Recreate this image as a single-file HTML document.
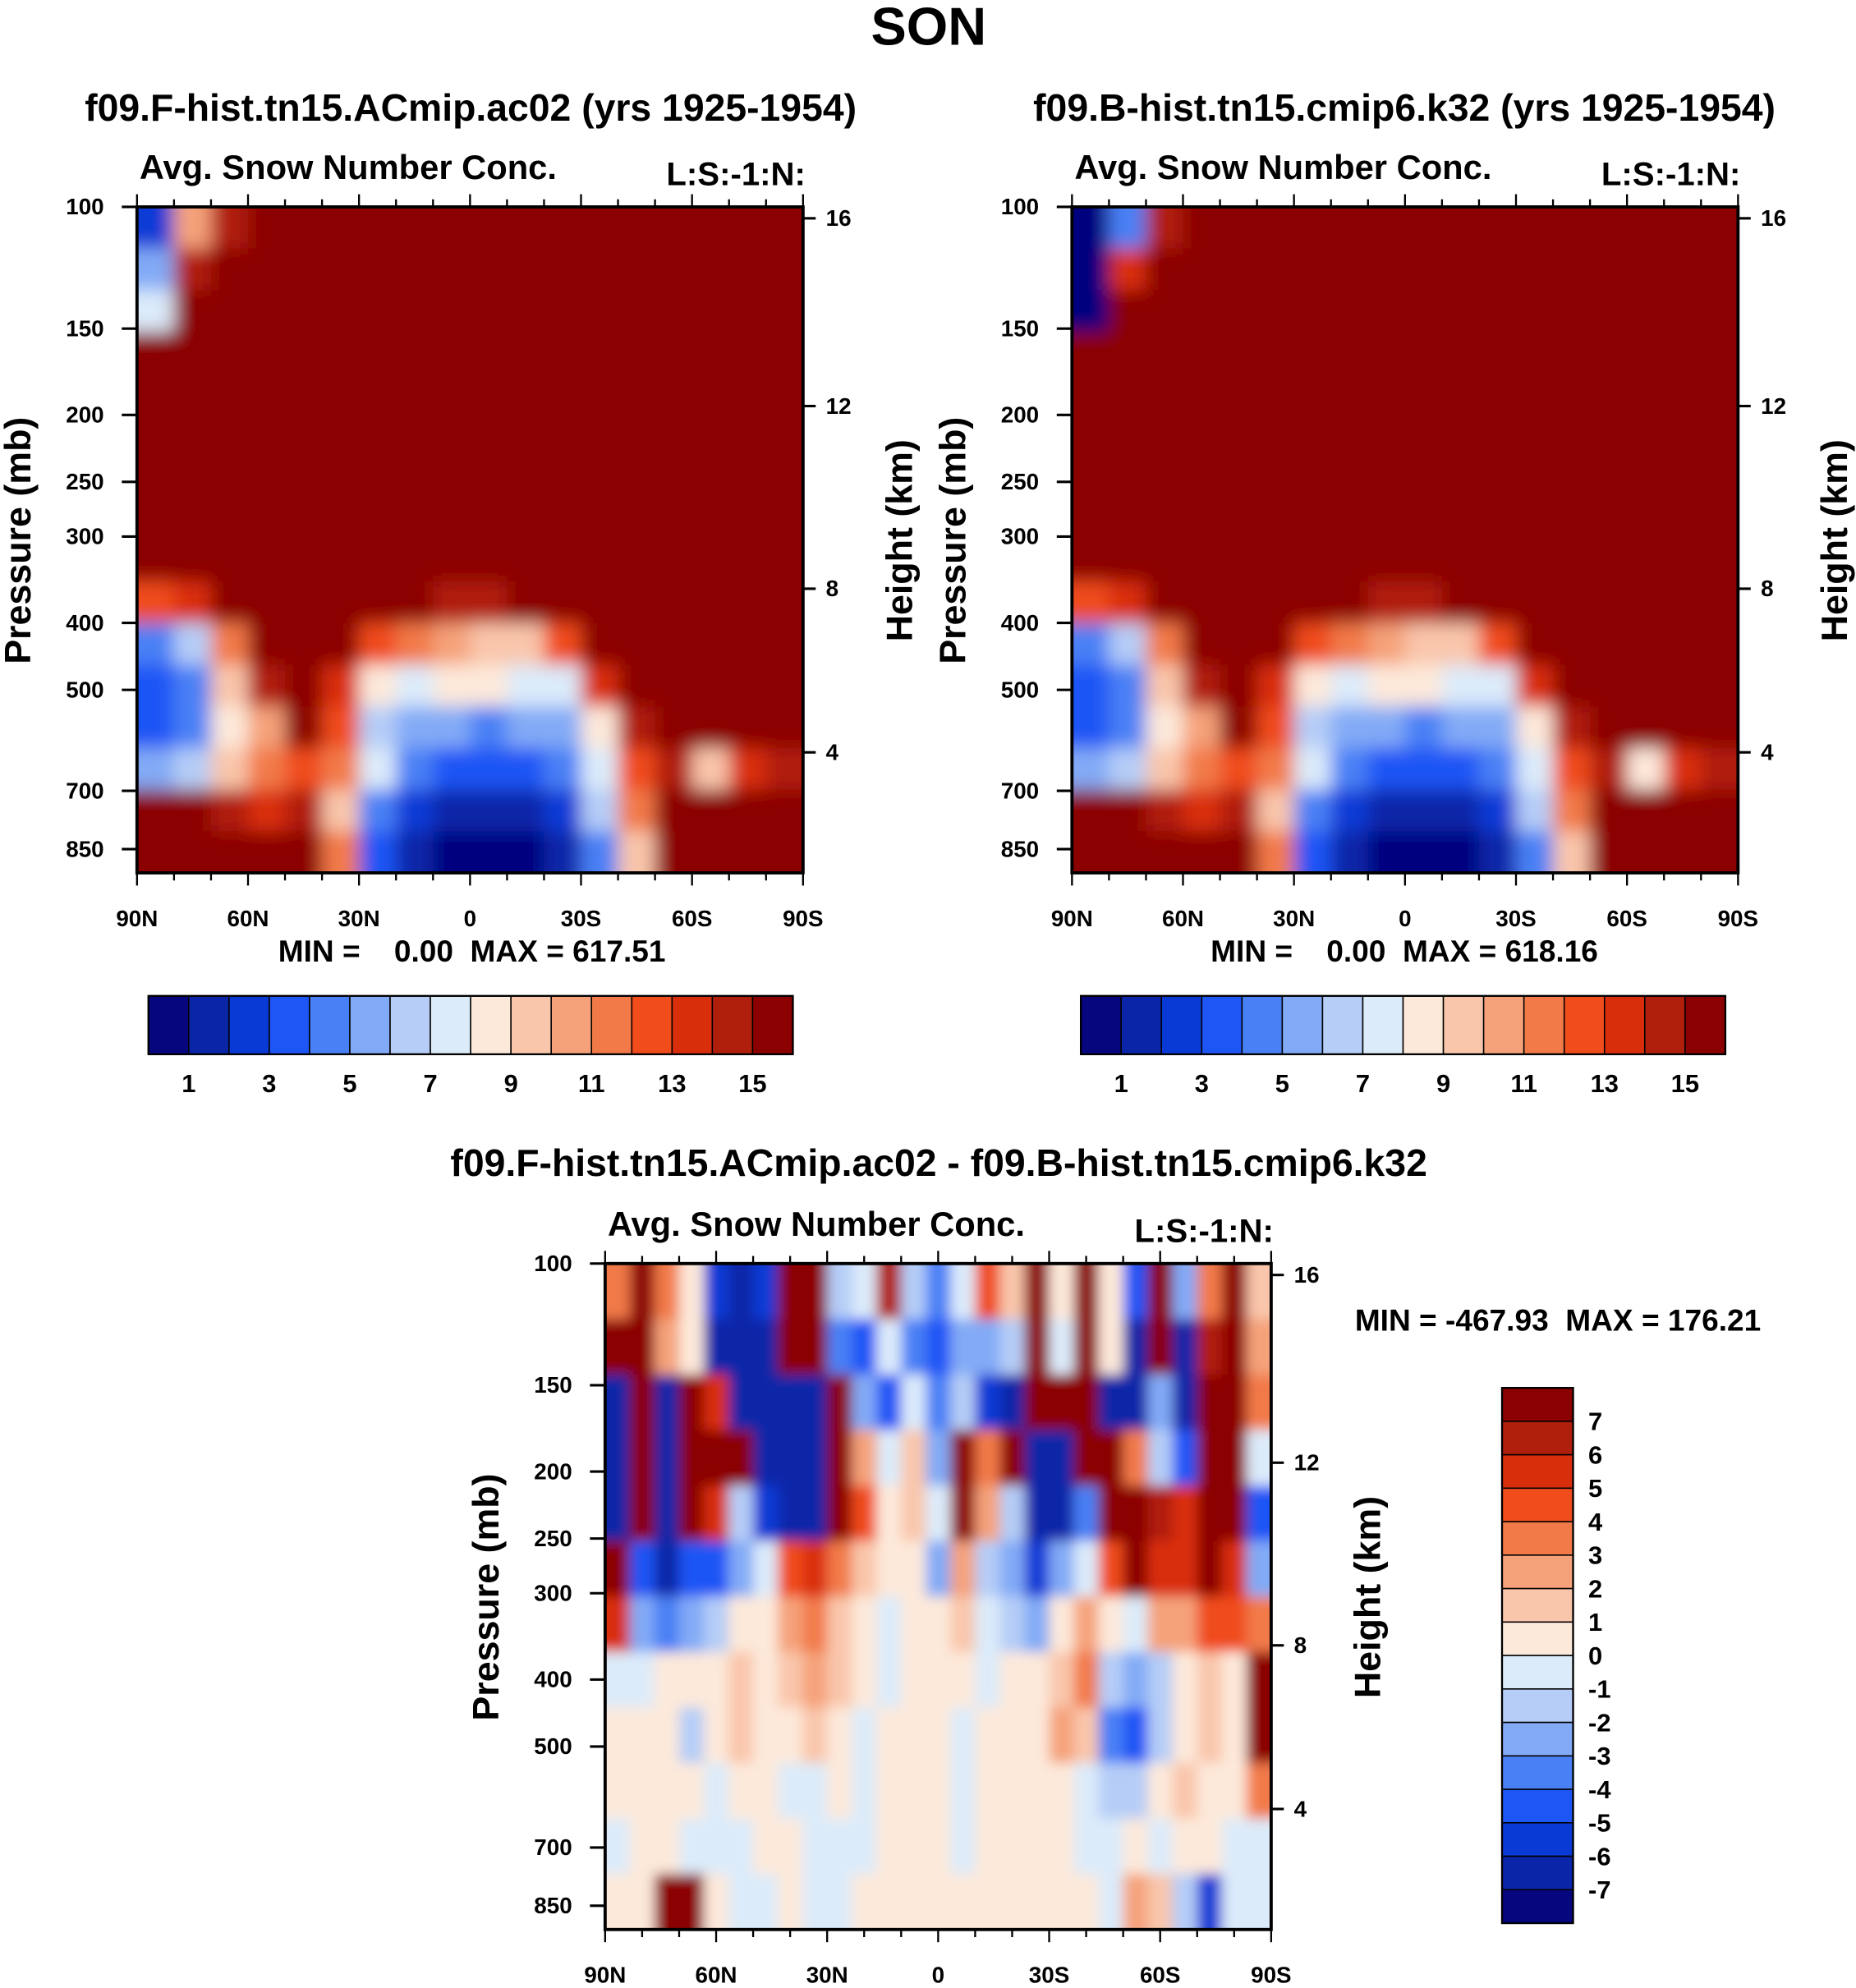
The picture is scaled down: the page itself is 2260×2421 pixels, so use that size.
<!DOCTYPE html>
<html><head><meta charset="utf-8"><style>
html,body{margin:0;padding:0;background:#fff;}
svg{display:block;font-family:"Liberation Sans",sans-serif;font-weight:bold;}
text{white-space:pre;}
</style></head><body>
<svg id="fig" width="2260" height="2421" viewBox="0 0 1463 1567" xmlns="http://www.w3.org/2000/svg">
<defs>
<filter id="blurA" x="-5%" y="-5%" width="110%" height="110%"><feGaussianBlur stdDeviation="7" edgeMode="duplicate"/></filter>
<filter id="blurB" x="-5%" y="-5%" width="110%" height="110%"><feGaussianBlur stdDeviation="5" edgeMode="duplicate"/></filter>
</defs>
<text x="732" y="35" font-size="42" text-anchor="middle">SON</text>
</svg>
<script>
// ---- data ----
const palette = ['#06067f','#0a25a8','#0a3ad6','#1e55f5','#4a80f5','#82aaf6','#b5cdf7','#dcebfa','#fde9da','#f9c6ab','#f5a27a','#f27a48','#f04c1c','#d92e0b','#b01f0c','#8b0000'];
const pressureTicks = [100,150,200,250,300,400,500,700,850];
const heightTicks = [16,12,8,4];
const latLabels = ['90N','60N','30N','0','30S','60S','90S'];
const topBarLabels = [1,3,5,7,9,11,13,15];
const diffBarLabels = [7,6,5,4,3,2,1,0,-1,-2,-3,-4,-5,-6,-7];
const fieldF = [
[2,10,14,16,16,16,16,16,16,16,16,16,16,16,16,16,16,16],
[5,14,16,16,16,16,16,16,16,16,16,16,16,16,16,16,16,16],
[7,16,16,16,16,16,16,16,16,16,16,16,16,16,16,16,16,16],
[16,16,16,16,16,16,16,16,16,16,16,16,16,16,16,16,16,16],
[16,16,16,16,16,16,16,16,16,16,16,16,16,16,16,16,16,16],
[16,16,16,16,16,16,16,16,16,16,16,16,16,16,16,16,16,16],
[16,16,16,16,16,16,16,16,16,16,16,16,16,16,16,16,16,16],
[16,16,16,16,16,16,16,16,16,16,16,16,16,16,16,16,16,16],
[16,16,16,16,16,16,16,16,16,16,16,16,16,16,16,16,16,16],
[12,13,16,16,16,16,15,16,14,14,15,16,16,16,16,16,16,16],
[4,6,11,16,16,16,12,11,10,9,9,12,16,16,16,16,16,16],
[3,4,9,14,16,13,8,7,8,8,7,7,13,16,16,16,16,16],
[3,4,8,10,15,12,6,5,5,4,5,5,8,14,16,16,16,16],
[5,6,9,11,12,11,7,4,3,3,3,4,7,12,14,9,13,14],
[15,15,14,13,14,9,4,2,1,1,1,2,6,11,15,16,16,16],
[16,16,16,16,16,11,3,1,0,0,0,1,4,9,15,16,16,16]];
const fieldB = [
[0,4,14,16,16,16,16,16,16,16,16,16,16,16,16,16,16,16],
[0,13,16,16,16,16,16,16,16,16,16,16,16,16,16,16,16,16],
[0,16,16,16,16,16,16,16,16,16,16,16,16,16,16,16,16,16],
[16,16,16,16,16,16,16,16,16,16,16,16,16,16,16,16,16,16],
[16,16,16,16,16,16,16,16,16,16,16,16,16,16,16,16,16,16],
[16,16,16,16,16,16,16,16,16,16,16,16,16,16,16,16,16,16],
[16,16,16,16,16,16,16,16,16,16,16,16,16,16,16,16,16,16],
[16,16,16,16,16,16,16,16,16,16,16,16,16,16,16,16,16,16],
[16,16,16,16,16,16,16,16,16,16,16,16,16,16,16,16,16,16],
[12,13,16,16,16,16,15,16,14,14,15,16,16,16,16,16,16,16],
[4,6,11,16,16,16,12,11,10,9,9,12,16,16,16,16,16,16],
[3,4,9,14,16,13,8,7,8,8,7,7,13,16,16,16,16,16],
[3,4,8,10,15,12,6,5,5,4,5,5,8,14,16,16,16,16],
[5,6,9,11,12,11,7,4,3,3,3,4,7,12,14,8,13,14],
[15,15,14,13,14,9,4,2,1,1,1,2,6,11,15,16,16,16],
[16,16,16,16,16,11,3,1,0,0,0,1,4,9,15,16,16,16]];
const fieldDiff = [
[3,7,3,0,-6,-7,-6,7,7,-2,-1,6,-2,-4,-1,4,1,7,0,7,0,-5,7,-3,3,7,1],
[7,7,2,0,-7,-7,-7,7,7,-4,-5,-1,-4,-5,-3,-3,-2,7,-1,7,0,-7,7,-7,6,7,2],
[-7,7,-7,7,5,-7,-7,-7,-7,7,-3,-5,-1,-4,-2,-6,-7,7,7,7,-7,-7,-3,-7,7,7,3],
[-7,7,-7,7,7,7,-7,-7,-7,7,2,-1,1,-3,7,3,7,-7,-7,7,7,3,-2,-5,7,7,-1],
[-7,7,-7,7,5,-2,-6,-7,-7,7,4,0,1,-1,7,2,-2,-7,-7,-4,7,7,6,5,7,7,-5],
[7,-5,-7,-5,-5,-3,-1,4,5,3,1,0,0,-3,2,-2,-3,-6,-3,-1,4,7,5,5,7,5,-3],
[5,-3,-4,-3,-2,0,0,2,3,1,0,-1,0,0,1,-1,-2,-3,0,2,0,-1,2,2,4,4,3],
[-1,-1,0,0,0,1,0,1,2,1,0,-1,0,0,0,-1,0,0,1,3,-2,-3,-2,0,1,0,7],
[0,0,0,-2,0,1,0,0,1,0,-1,0,0,0,-1,0,0,0,2,1,-4,-5,-2,0,1,0,7],
[0,0,0,0,-1,0,0,-1,-1,0,-1,0,0,0,-1,0,0,0,0,-1,-2,-2,0,1,0,0,3],
[-1,0,0,-1,-1,-1,0,0,-1,-1,-1,0,0,0,-1,0,0,0,0,-1,-1,0,-1,0,0,-1,-1],
[0,0,7,7,0,-1,-1,0,-1,-1,0,0,0,0,0,0,0,0,0,0,-1,2,1,-2,-6,-1,-1]];

// ---- helpers ----
const NS='http://www.w3.org/2000/svg';
const svg=document.getElementById('fig');
function mk(tag,attrs,parent){const e=document.createElementNS(NS,tag);for(const k in attrs)e.setAttribute(k,attrs[k]);(parent||svg).appendChild(e);return e;}
function txt(x,y,s,size,anchor,parent){const t=mk('text',{x:x,y:y,'font-size':size,'text-anchor':anchor||'start'},parent);t.textContent=s;return t;}
const W=525,H=525;
function yP(p,oy){const a=Math.log(100),b=Math.log(920);return oy+(Math.log(p)-a)/(b-a)*H;}
function xLat(i,ox){return ox+i*W/6;}
function colorTop(v){let k=Math.floor(v);return palette[Math.max(0,Math.min(15,k))];}
function colorDiff(v){let k=Math.floor(v)+8;return palette[Math.max(0,Math.min(15,k))];}

function panel(ox,oy,field,colorFn,filt,name,opts){
  const g=mk('g',{},svg);
  
  
  const cid='clip-'+name;
  const cp=mk('clipPath',{id:cid},svg);mk('rect',{x:ox,y:oy,width:W,height:H},cp);
  const cg=mk('g',{'clip-path':'url(#'+cid+')'},g);
  const fg=mk('g',{filter:'url(#'+filt+')'},cg);
  const nr=field.length,nc=field[0].length,cw=W/nc,ch=H/nr;
  for(let r=0;r<nr;r++)for(let c=0;c<nc;c++){
    let x=ox+c*cw,y=oy+r*ch,w=cw+0.5,h=ch+0.5;
    if(c===0){x-=30;w+=30;} if(c===nc-1)w+=30;
    if(r===0){y-=30;h+=30;} if(r===nr-1)h+=30;
    const cell=mk('rect',{x:x,y:y,width:w,height:h,fill:colorFn(field[r][c])},fg);
    
    
  }
  mk('rect',{x:ox,y:oy,width:W,height:H,fill:'none',stroke:'#000','stroke-width':2.5},g);
  pressureTicks.forEach(p=>{const y=yP(p,oy);mk('line',{x1:ox-12,x2:ox,y1:y,y2:y,stroke:'#000','stroke-width':2},g);
    const t=txt(ox-26,y+6,String(p),18,'end',g);});
  const hy={16:9,12:157,8:301,4:430};
  heightTicks.forEach(h=>{const y=oy+hy[h];mk('line',{x1:ox+W,x2:ox+W+10,y1:y,y2:y,stroke:'#000','stroke-width':2},g);
    const t=txt(ox+W+18,y+6,String(h),18,'start',g);});
  for(let i=0;i<=18;i++){const x=ox+i*W/18;const L=(i%3===0)?10:6;
    mk('line',{x1:x,x2:x,y1:oy,y2:oy-L,stroke:'#000','stroke-width':1.5},g);
    mk('line',{x1:x,x2:x,y1:oy+H,y2:oy+H+L,stroke:'#000','stroke-width':1.5},g);}
  latLabels.forEach((l,i)=>{const t=txt(xLat(i,ox),oy+H+42,l,18,'middle',g);});
  const s1=txt(ox+2,oy-22,'Avg. Snow Number Conc.',27,'start',g);
  const s2=txt(ox+W+2,oy-17,'L:S:-1:N:',26,'end',g);
  const ya=mk('text',{transform:'translate('+(ox-84)+','+(oy+263)+') rotate(-90)','font-size':29,'text-anchor':'middle'},g);ya.textContent='Pressure (mb)';
  
  const ha=mk('text',{transform:'translate('+(ox+W+86)+','+(oy+263)+') rotate(-90)','font-size':29,'text-anchor':'middle'},g);ha.textContent='Height (km)';
  
  const ti=txt(opts.tx,opts.ty,opts.title,30,'middle',g);
  const mm=txt(opts.mx,opts.my,opts.minmax,24,opts.ma,g);
}
function hbar(ox,oy,name){
  const g=mk('g',{},svg);
  
  
  const bw=508/16;
  palette.forEach((c,i)=>{const r=mk('rect',{x:ox+i*bw,y:oy,width:bw,height:46,fill:c,stroke:'#000','stroke-width':1},g);
    });
  mk('rect',{x:ox,y:oy,width:508,height:46,fill:'none',stroke:'#000','stroke-width':1.5},g);
  topBarLabels.forEach(v=>{const t=txt(ox+v*bw,oy+76,String(v),20,'middle',g);});
}
panel(108,163,fieldF,colorTop,'blurA','panel-f-hist',{tx:371,ty:95,title:'f09.F-hist.tn15.ACmip.ac02 (yrs 1925-1954)',mx:372,my:758,minmax:'MIN =    0.00  MAX = 617.51',ma:'middle'});
panel(845,163,fieldB,colorTop,'blurA','panel-b-hist',{tx:1107,ty:95,title:'f09.B-hist.tn15.cmip6.k32 (yrs 1925-1954)',mx:1107,my:758,minmax:'MIN =    0.00  MAX = 618.16',ma:'middle'});
hbar(117,785,'colorbar-f-hist');
hbar(852,785,'colorbar-b-hist');
panel(477,996,fieldDiff,colorDiff,'blurB','panel-difference',{tx:740,ty:927,title:'f09.F-hist.tn15.ACmip.ac02 - f09.B-hist.tn15.cmip6.k32',mx:1068,my:1049,minmax:'MIN = -467.93  MAX = 176.21',ma:'start'});
(function(){
  const g=mk('g',{},svg);
  
  
  const ox=1184,oy=1094,bh=422/16;
  for(let i=0;i<16;i++){const r=mk('rect',{x:ox,y:oy+i*bh,width:56,height:bh,fill:palette[15-i],stroke:'#000','stroke-width':1},g);
    }
  mk('rect',{x:ox,y:oy,width:56,height:422,fill:'none',stroke:'#000','stroke-width':1.5},g);
  diffBarLabels.forEach((v,i)=>{const t=txt(ox+68,oy+(i+1)*bh+7,String(v),20,'start',g);});
})();
</script>
</body></html>
